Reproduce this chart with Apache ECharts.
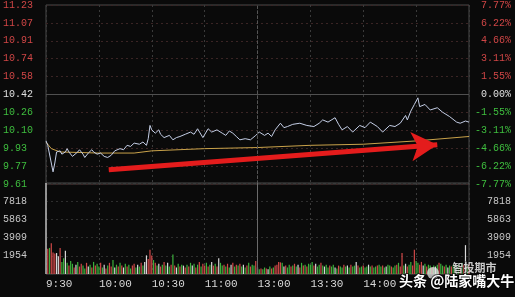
<!DOCTYPE html>
<html><head><meta charset="utf-8">
<script src="https://cdn.jsdelivr.net/npm/echarts@6/dist/echarts.min.js"></script>
<style>html,body{margin:0;padding:0;background:#0a0a0a}#c{width:515px;height:297px}</style>
</head><body><div id="c"></div>
<script>
// ---- data ----
const prevClose = 10.42;
const timeTickLabels = ['9:30','10:00','10:30','11:00','13:00','13:30','14:00','',''];
// minute index (0..240) and price
const priceIdx = [0,1,3,4,5,6,8,9,10,11,12,13,15,16,18,19,21,22,24,26,27,29,31,33,35,37,39,42,44,46,48,50,53,55,57,58,59,60,62,64,65,67,70,72,74,76,79,82,84,86,89,92,94,97,100,102,104,106,108,110,113,116,119,121,124,126,128,130,133,135,137,140,144,148,152,155,157,160,164,166,168,171,174,178,181,184,188,191,195,198,201,204,205,207,209,211,212,215,218,222,225,229,233,235,238,240];
const priceVal = [10.00,9.96,9.80,9.72,9.80,9.90,9.91,9.88,9.87,9.90,9.93,9.90,9.86,9.85,9.90,9.92,9.88,9.85,9.89,9.92,9.90,9.88,9.89,9.86,9.85,9.87,9.91,9.93,9.92,9.96,9.95,9.98,9.97,9.99,9.96,10.02,10.14,10.10,10.07,10.10,10.06,10.03,10.05,10.01,10.03,10.04,10.06,10.08,10.06,10.11,10.03,10.11,10.08,10.10,10.07,10.05,10.09,10.07,10.04,10.01,10.02,10.01,10.05,10.08,10.05,10.07,10.04,10.10,10.16,10.12,10.13,10.15,10.16,10.14,10.13,10.16,10.19,10.17,10.21,10.15,10.10,10.13,10.08,10.14,10.12,10.17,10.13,10.08,10.14,10.13,10.16,10.23,10.19,10.27,10.33,10.39,10.31,10.33,10.28,10.30,10.26,10.22,10.17,10.16,10.18,10.17];
const avgIdx = [0,3,8,30,50,60,90,120,150,180,210,240];
const avgVal = [9.99,9.93,9.90,9.89,9.89,9.91,9.93,9.94,9.96,9.97,10.00,10.04];
// per-minute volume (lots)
const volume = [
9772,2700,2800,3300,2300,2200,2250,1900,2800,1300,
1700,2500,1200,900,1400,1100,700,1000,1300,800,
1100,900,600,1200,800,1000,700,1300,900,1100,
800,1200,700,1000,600,900,1200,800,1500,700,
1000,800,1200,900,700,1100,800,1000,600,900,
1100,700,1000,800,1200,900,1300,2000,1600,2600,
2000,1500,1200,900,1100,800,1000,1300,900,1200,
800,1000,2100,900,700,1100,800,1000,900,700,
1000,800,1200,900,1100,700,1000,1300,800,1100,
900,1200,800,1000,1300,900,1100,800,1700,1200,
900,1000,800,1100,700,1000,1200,800,1000,900,
1100,800,1000,700,900,1200,800,1000,900,1400,
700,500,600,500,700,600,500,800,600,700,
900,1000,1300,1250,1200,800,900,700,1000,800,
900,1100,800,1000,700,1200,900,1000,800,1100,
1000,1300,900,1100,800,1000,1200,900,800,1000,
700,900,800,1000,700,600,900,800,700,1000,
800,900,700,1000,800,900,1300,900,700,800,
900,700,800,1000,800,900,700,800,900,1000,
800,900,700,800,1000,900,800,700,900,1000,
1200,800,2250,900,1100,800,1000,1300,900,2600,
1400,1200,1000,1300,900,1100,800,1000,900,700,
900,800,1000,1200,1100,900,800,1000,700,900,
800,1000,900,700,1000,800,1200,1000,3100,900,1100];
// minute direction: r up, g down, w flat
const volDir = (
'wrgrrrwwrg'+'gwgrggrwgr'+'rggrwgrgrg'+'grgwrgrrgw'+'grgrwgrggr'+
'rgwgrgwwrr'+'rgrgwrgrgw'+'grgrwgrgwr'+'grgwgrgrgr'+'rgrgwrgrwg'+
'grgrgwrgrg'+'rgwgrgrggr'+'wgrggrwgrg'+'rrrrgwrggr'+'grgwrgrgrg'+
'ggrwggrgwg'+'grggwgrggr'+'gwgrggwrgg'+'rggwgrggrg'+'grgwggrggr'+
'grrgwrggrr'+'ggrrwgrggr'+'gwgrggrgwg'+'rggwgrgrwg'+'r').split('');
const arrowFrom = [35.6, 9.74];
const arrowTo = [222, 9.965];

// ---- chart ----
const RED='#d04646', GREEN='#3fbf3f', WHITE='#e0e0e0';
const chart = echarts.init(document.getElementById('c'), null, {renderer:'canvas'});
const priceColor = v => v > prevClose + 1e-6 ? RED : (v < prevClose - 1e-6 ? GREEN : WHITE);
const pctColor = v => v > 1e-6 ? RED : (v < -1e-6 ? GREEN : WHITE);
const maxPct = +((11.23 - prevClose) / prevClose * 100).toFixed(2);
const font = {fontFamily:'Liberation Mono', fontSize:10};
const xBase = {type:'value', min:0, max:240, interval:30,
  axisLine:{show:false}, axisTick:{show:false},
  splitLine:{show:true, lineStyle:{color:'#3a3a3a', type:[2,3], width:1}}};
const volMax = 9772, volInt = 1954.4;
const volLabel = v => (v < 1 || v > volMax - 1) ? '' : Math.round(v).toString();

chart.setOption({
  animation:false,
  backgroundColor:'#0a0a0a',
  grid:[
    {left:45, top:5, width:424, height:179, show:true, borderColor:'#4a4a4a', borderWidth:1, backgroundColor:'transparent'},
    {left:45, top:183, width:424, height:91, show:true, borderColor:'#4a4a4a', borderWidth:1, backgroundColor:'transparent'}
  ],
  xAxis:[
    Object.assign({gridIndex:0, axisLabel:{show:false}}, xBase),
    Object.assign({gridIndex:1, axisLabel:{show:true, align:'left', margin:5, color:'#d8d8d8',
      fontFamily:'Liberation Mono', fontSize:11,
      formatter:(v)=>timeTickLabels[Math.round(v/30)] || ''}}, xBase)
  ],
  yAxis:[
    {type:'value', gridIndex:0, min:9.61, max:11.23, interval:0.162, position:'left',
      axisLine:{show:false}, axisTick:{show:false},
      splitLine:{show:true, lineStyle:{color:'#3a2424', type:[2,3]}},
      axisLabel:Object.assign({align:'left', margin:43, formatter:v=>v.toFixed(2), color:priceColor}, font)},
    {type:'value', gridIndex:0, min:-maxPct, max:maxPct, interval:maxPct/5, position:'right',
      axisLine:{show:false}, axisTick:{show:false}, splitLine:{show:false},
      axisLabel:Object.assign({align:'right', margin:42, color:pctColor,
        formatter:v=>(Math.abs(v)<1e-6?0:v).toFixed(2)+'%'}, font)},
    {type:'value', gridIndex:1, min:0, max:volMax, interval:volInt, position:'left',
      axisLine:{show:false}, axisTick:{show:false},
      splitLine:{show:true, lineStyle:{color:'#2e2e2e', type:[2,3]}},
      axisLabel:Object.assign({align:'left', margin:43, color:'#c8c8c8', formatter:volLabel}, font)},
    {type:'value', gridIndex:1, min:0, max:volMax, interval:volInt, position:'right',
      axisLine:{show:false}, axisTick:{show:false}, splitLine:{show:false},
      axisLabel:Object.assign({align:'right', margin:42, color:'#c8c8c8', formatter:volLabel}, font)}
  ],
  series:[
    {type:'line', xAxisIndex:0, yAxisIndex:0, data:avgIdx.map((x,i)=>[x,avgVal[i]]),
      symbol:'none', lineStyle:{color:'#c9a24a', width:1}, z:3},
    {type:'line', xAxisIndex:0, yAxisIndex:0, data:priceIdx.map((x,i)=>[x,priceVal[i]]),
      symbol:'none', lineStyle:{color:'#c4cee6', width:1}, z:4,
      markLine:{silent:true, symbol:'none', label:{show:false},
        data:[
          [{coord:[0,prevClose], lineStyle:{color:'#505050', type:'solid', width:1}},{coord:[240,prevClose]}],
          [{coord:[120,9.61], lineStyle:{color:'#555555', type:[3,2], width:1}},{coord:[120,11.23]}]
        ]}},
    {type:'line', xAxisIndex:0, yAxisIndex:0, data:[], z:6,
      markLine:{silent:true, symbol:['none','arrow'], symbolSize:[22,26], label:{show:false},
        lineStyle:{color:'#e41c1c', width:5, type:'solid', opacity:1},
        data:[[{coord:arrowFrom},{coord:arrowTo}]]}},
    {type:'bar', xAxisIndex:1, yAxisIndex:2, barWidth:1.2, z:3,
      data:volume.map((v,i)=>[i,v]),
      itemStyle:{color:p=>{const d=volDir[p.dataIndex];return d==='r'?'#d04848':(d==='g'?'#3cb03c':'#d8d8d8');}},
      markLine:{silent:true, symbol:'none', label:{show:false},
        data:[[{coord:[120,0], lineStyle:{color:'#6a6a6a', type:'solid', width:1}},{coord:[120,volMax]}]]}}
  ],
  graphic:[
    {type:'text', left:452, top:262, z:100, style:{text:'智投期市', fill:'rgba(235,235,235,0.85)',
      font:'bold 11px "Noto Sans CJK SC"', stroke:'rgba(0,0,0,0.5)', lineWidth:1}},
    {type:'circle', shape:{cx:433, cy:273, r:6}, z:100, style:{fill:'rgba(230,230,230,0.75)'}},
    {type:'text', left:398, top:273, z:101, style:{text:'头条 @陆家嘴大牛', fill:'#ffffff',
      font:'bold 14px "Noto Sans CJK SC"', stroke:'rgba(0,0,0,0.6)', lineWidth:2}}
  ]
});
</script></body></html>
